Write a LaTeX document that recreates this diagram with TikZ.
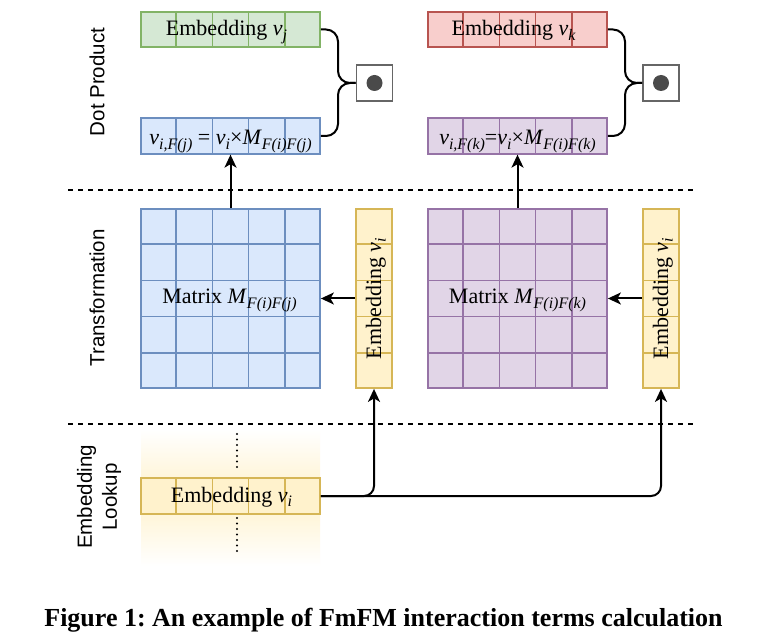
\documentclass[tikz,border=0pt]{standalone}
\usepackage{fontspec}
\setmainfont{Liberation Serif}
\newfontfamily\lsans{Liberation Sans}
\usetikzlibrary{arrows.meta,calc}
\definecolor{gfill}{HTML}{D5E8D4}\definecolor{gdraw}{HTML}{82B366}
\definecolor{rfill}{HTML}{F8CECC}\definecolor{rdraw}{HTML}{B85450}
\definecolor{bfill}{HTML}{DAE8FC}\definecolor{bdraw}{HTML}{6C8EBF}
\definecolor{pfill}{HTML}{E1D5E7}\definecolor{pdraw}{HTML}{9673A6}
\definecolor{yfill}{HTML}{FFF2CC}\definecolor{ydraw}{HTML}{D6B656}
\definecolor{dotgray}{HTML}{4A4A4A}
\definecolor{boxgray}{HTML}{666666}
\newcommand{\mysub}[1]{\raisebox{-4.5pt}{\fontsize{16}{16}\selectfont\itshape #1}}
\newcommand{\hgrid}[1]{\foreach \k in {1,...,4}{\draw[cellline] ($(#1.north west)!\k/5!(#1.north east)$) -- ($(#1.south west)!\k/5!(#1.south east)$);}}
\newcommand{\vgrid}[1]{\foreach \k in {1,...,4}{\draw[cellline] ($(#1.north west)!\k/5!(#1.south west)$) -- ($(#1.north east)!\k/5!(#1.south east)$);}}
\tikzset{
  cellbox/.style={rectangle, inner sep=0pt, line width=1.8pt},
  hvec/.style={cellbox, minimum width=179pt, minimum height=35.5pt},
  vvec/.style={cellbox, minimum width=36pt, minimum height=179pt},
  mat/.style={cellbox, minimum width=179pt, minimum height=179pt},
  cellline/.style={line width=1.8pt},
  lbl/.style={inner sep=0pt, anchor=base, font=\fontsize{22}{26}\selectfont},
  sec/.style={inner sep=0pt, rotate=90, align=center, font=\lsans\fontsize{20.5}{25}\selectfont},
  arr/.style={line width=2pt, -{Stealth[length=13pt,width=12pt,inset=3.5pt]}},
  conn/.style={line width=2pt},
  sep/.style={line width=1.6pt, dash pattern=on 5pt off 5pt},
  dotbox/.style={rectangle, draw=boxgray, fill=white, line width=1.8pt, minimum size=36pt, inner sep=0pt},
  dotc/.style={circle, fill=dotgray, minimum size=16pt, inner sep=0pt},
}
\begin{document}
\begin{tikzpicture}[x=1pt,y=-1pt]
\useasboundingbox[fill=white] (0,0) rectangle (758,644);

% separators
\draw[sep] (68,190) -- (697,190);
\draw[sep] (68,424) -- (697,424);

% section labels
\node[sec] (sdp) at (97,82) {Dot Product};
\node[sec] (str) at (97,298) {Transformation};
\node[sec] (sel) at (99,497) {Embedding\\Lookup};

% ---- left column (j)
\node[hvec, fill=gfill, draw=gdraw] (ej) at (230.5,29.5) {};
\begin{scope}[gdraw]\hgrid{ej}\end{scope}
\node[lbl] (ejt) at ($(ej.center)+(-4,6.5)$) {Embedding \textit{v}\mysub{j}};

\node[hvec, fill=bfill, draw=bdraw] (vij) at (230.5,136) {};
\begin{scope}[bdraw]\hgrid{vij}\end{scope}
\node[lbl] (vijt) at ($(vij.center)+(0,9)$) {\textit{v}\mysub{i,F(j)} = \textit{v}\mysub{i}×\textit{M}\mysub{F(i)F(j)}};

\node[dotbox] (dot1) at (374.5,83) {};
\node[dotc] (dot1c) at (dot1) {};
\draw[conn, rounded corners=12pt] (ej.east) -| (338,83) -- (dot1.west);
\draw[conn, rounded corners=12pt] (vij.east) -| (338,83) -- (dot1.west);

\node[mat, fill=bfill, draw=bdraw] (mj) at (230.5,298.5) {};
\begin{scope}[bdraw]\hgrid{mj}\vgrid{mj}\end{scope}
\node[lbl] (mjt) at ($(mj.center)+(-1,5.5)$) {Matrix \textit{M}\mysub{F(i)F(j)}};

\node[vvec, fill=yfill, draw=ydraw] (yi1) at (374,298.5) {};
\begin{scope}[ydraw]\vgrid{yi1}\end{scope}
\node[lbl, rotate=90] (yi1t) at ($(yi1.center)+(7,0)$) {Embedding \textit{v}\mysub{i}};

% ---- right column (k)
\node[hvec, fill=rfill, draw=rdraw] (ek) at (517.5,29.5) {};
\begin{scope}[rdraw]\hgrid{ek}\end{scope}
\node[lbl] (ekt) at ($(ek.center)+(-4,6.5)$) {Embedding \textit{v}\mysub{k}};

\node[hvec, fill=pfill, draw=pdraw] (vik) at (517.5,136) {};
\begin{scope}[pdraw]\hgrid{vik}\end{scope}
\node[lbl] (vikt) at ($(vik.center)+(0,9)$) {\textit{v}\mysub{i,F(k)}=\textit{v}\mysub{i}×\textit{M}\mysub{F(i)F(k)}};

\node[dotbox] (dot2) at (661,83) {};
\node[dotc] (dot2c) at (dot2) {};
\draw[conn, rounded corners=12pt] (ek.east) -| (625,83) -- (dot2.west);
\draw[conn, rounded corners=12pt] (vik.east) -| (625,83) -- (dot2.west);

\node[mat, fill=pfill, draw=pdraw] (mk) at (517.5,298.5) {};
\begin{scope}[pdraw]\hgrid{mk}\vgrid{mk}\end{scope}
\node[lbl] (mkt) at ($(mk.center)+(0,5.5)$) {Matrix \textit{M}\mysub{F(i)F(k)}};

\node[vvec, fill=yfill, draw=ydraw] (yi2) at (661,298.5) {};
\begin{scope}[ydraw]\vgrid{yi2}\end{scope}
\node[lbl, rotate=90] (yi2t) at ($(yi2.center)+(7,0)$) {Embedding \textit{v}\mysub{i}};

% ---- lookup
\shade[top color=white, bottom color=yfill] (141,430) rectangle (320,496);
\shade[top color=yfill, bottom color=white] (141,496) rectangle (320,566);
\draw[line width=2.2pt, line cap=round, dash pattern=on 0pt off 5.5pt] (237,434) -- (237,470);
\draw[line width=2.2pt, line cap=round, dash pattern=on 0pt off 5.5pt] (237,518) -- (237,555);
\node[hvec, fill=yfill, draw=ydraw] (lk) at (230.5,496) {};
\begin{scope}[ydraw]\hgrid{lk}\end{scope}
\node[lbl] (lkt) at ($(lk.center)+(1,6)$) {Embedding \textit{v}\mysub{i}};

% ---- arrows
\draw[arr] (mj.north) -- (vij.south);
\draw[arr] (mk.north) -- (vik.south);
\draw[arr] (yi1.west) -- (mj.east);
\draw[arr] (yi2.west) -- (mk.east);
\draw[arr, rounded corners=10pt] (lk.east) -| (yi1.south);
\draw[arr, rounded corners=10pt] (lk.east) -| (yi2.south);

% caption
\node[inner sep=0pt, font=\bfseries\fontsize{26}{30}\selectfont] (cap) at (383.5,620) {Figure 1:\ An example of FmFM interaction terms calculation};
\end{tikzpicture}
\end{document}
